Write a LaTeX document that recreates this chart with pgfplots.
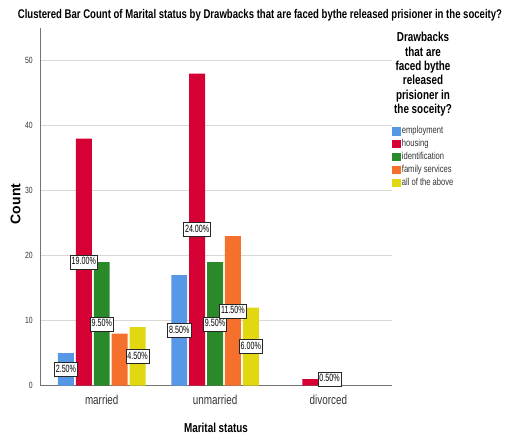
\documentclass[border=0pt]{standalone}
\usepackage{fontspec}
\setmainfont{Liberation Sans}[FakeStretch=0.76]
\newfontfamily\labfont[FakeStretch=0.68]{Liberation Sans}
\newfontfamily\plainsans{Liberation Sans}
\usepackage{pgfplots}
\pgfplotsset{compat=1.18}

\definecolor{cemp}{RGB}{87,152,230}
\definecolor{chou}{RGB}{213,0,52}
\definecolor{cide}{RGB}{42,138,42}
\definecolor{cfam}{RGB}{244,112,44}
\definecolor{call}{RGB}{226,216,18}

% percentage boxes, centred on half the bar height
\pgfplotsset{lab/.style={bar shift=#1, draw=none, fill=none, forget plot,
    nodes near coords, point meta=explicit symbolic,
    nodes near coords align=center,
    every node near coord/.append style={fill=white, draw=black!85, line width=0.5pt,
      inner sep=1.4pt, text height=8.3pt, text depth=2.8pt,
      font=\labfont\fontsize{10.5}{10.5}\selectfont}}}

\begin{document}
\begin{tikzpicture}
\useasboundingbox (0,0) rectangle (508pt,-438pt);
\begin{axis}[
  at={(40pt,-385.6pt)}, anchor=south west,
  scale only axis, width=352pt, height=357.6pt,
  ybar, bar width=0.141,
  xmin=-0.545, xmax=2.562, ymin=0, ymax=55,
  axis x line*=bottom, axis y line*=left,
  axis line style={-, draw=black!55, line width=0.9pt},
  major tick length=0pt,
  xtick={0,1,2}, xticklabels={married,unmarried,divorced},
  ytick={0,10,20,30,40,50},
  ymajorgrids, grid style={black!15, line width=0.9pt},
  /pgf/number format/assume math mode=true,
  yticklabel style={anchor=east, inner sep=0pt, xshift=-7pt,
    font=\fontsize{9}{9}\selectfont, text=black!80},
  xticklabel style={anchor=north, inner sep=0pt, yshift=-9pt,
    font=\fontsize{13}{13}\selectfont, text=black!80},
  xlabel={Marital status},
  xlabel style={at={(axis description cs:0.5,0)}, anchor=center, yshift=-42.4pt,
    font=\bfseries\fontsize{13}{13}\selectfont},
  ylabel={Count},
  ylabel style={at={(axis description cs:-0.0696,0.508)}, anchor=center,
    font=\plainsans\bfseries\fontsize{14}{14}\selectfont},
  clip=false,
  legend image code/.code={\fill[#1,/tikz/.cd] (0pt,-4.3pt) rectangle (8.5pt,4.3pt);},
  legend cell align=left,
  legend style={at={(1,0.730)}, anchor=north west, draw=none, fill=none,
    inner sep=0pt, row sep=0pt, font=\fontsize{10}{10}\selectfont,
    nodes={inner sep=1.2pt, text height=8pt, text depth=2.5pt, text=black!80}},
]
\addplot[fill=cemp, draw=none, bar shift=-0.316] coordinates {(0,5) (1,17)};
\addlegendentry{employment}
\addplot[fill=chou, draw=none, bar shift=-0.158] coordinates {(0,38) (1,48) (2,1)};
\addlegendentry{housing}
\addplot[fill=cide, draw=none, bar shift=0] coordinates {(0,19) (1,19)};
\addlegendentry{identification}
\addplot[fill=cfam, draw=none, bar shift=0.158] coordinates {(0,8) (1,23)};
\addlegendentry{family services}
\addplot[fill=call, draw=none, bar shift=0.316] coordinates {(0,9) (1,12)};
\addlegendentry{all of the above}

\addplot[lab=-0.316] coordinates {(0,2.5) [2.50\%] (1,8.5) [8.50\%]};
\addplot[lab=-0.158] coordinates {(0,19) [19.00\%] (1,24) [24.00\%]};
\addplot[lab=0] coordinates {(0,9.5) [9.50\%] (1,9.5) [9.50\%]};
\addplot[lab=0.158] coordinates {(1,11.5) [11.50\%]};
\addplot[lab=0.316] coordinates {(0,4.5) [4.50\%] (1,6) [6.00\%]};
\addplot[lab=-0.158, nodes near coords align=west,
  every node near coord/.append style={xshift=7.3pt}] coordinates {(2,1) [0.50\%]};
\end{axis}
\node[anchor=center, inner sep=0pt, font=\bfseries\fontsize{12.6}{12.6}\selectfont] at (260pt,-15.5pt)
  {Clustered Bar Count of Marital status by Drawbacks that are faced bythe released prisioner in the soceity?};
\node[anchor=north, align=center, inner sep=0pt,
  font=\bfseries\fontsize{13}{14.4}\selectfont] at (423pt,-32pt)
  {Drawbacks\\that are\\faced bythe\\released\\prisioner in\\the soceity?};
\end{tikzpicture}
\end{document}
